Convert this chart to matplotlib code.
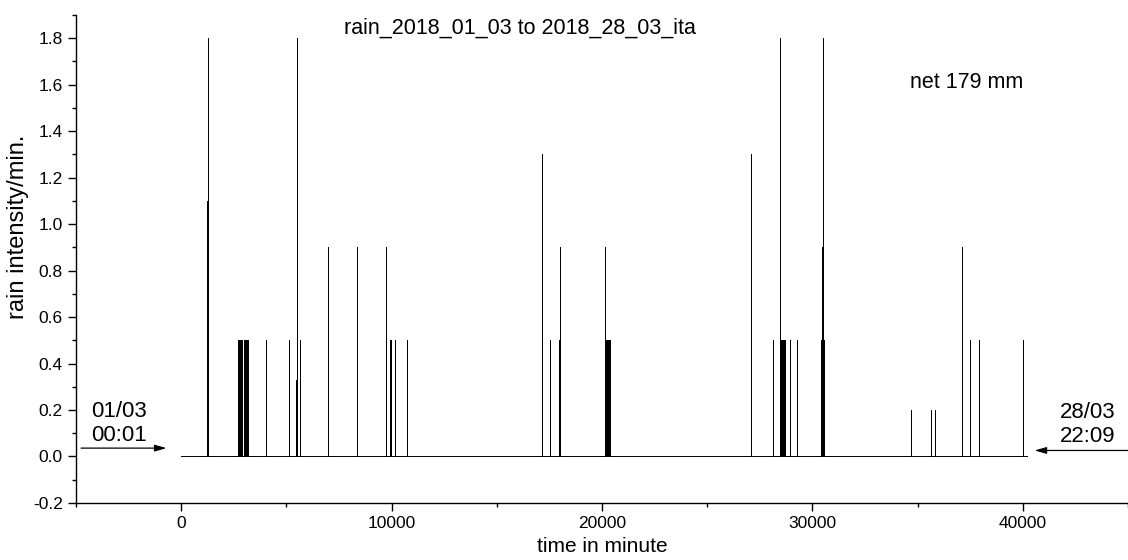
"""Rain intensity per minute, 01/03 to 28/03 2018 (spike plot)."""

import matplotlib

matplotlib.use("Agg")
import matplotlib.pyplot as plt
import numpy as np
from matplotlib.ticker import MultipleLocator, FormatStrFormatter

plt.rcParams["font.family"] = ["Liberation Sans", "DejaVu Sans"]

# record length in minutes (01/03 00:01 -> 28/03 22:09)
RECORD_END = 40208

# rain events: minute of event and intensity (mm/min)
EVENT_TIME = [
    1245, 1250,
    2684, 2731, 2779, 2826, 2883, 2907, 2969, 3016, 3064, 3111, 3159, 3183,
    4010, 4030,
    5144, 5477, 5510, 5652,
    6983, 8360,
    9714, 9752, 9904, 9975, 10179, 10749,
    17148, 17528, 17979, 18003,
    20126, 20140, 20185, 20230, 20280, 20330, 20400,
    27061, 28120, 28134, 28450, 28467, 28510, 28560, 28610, 28660, 28720,
    28928, 29246,
    30430, 30470, 30495, 30520, 30560,
    34689, 35625, 35829, 37131, 37511, 37919, 40009,
]
EVENT_RATE = [
    1.1, 1.8,
    0.5, 0.5, 0.5, 0.5, 0.5, 0.16, 0.5, 0.5, 0.5, 0.5, 0.5, 0.5,
    0.5, 0.5,
    0.5, 0.33, 1.8, 0.5,
    0.9, 0.9,
    0.5, 0.9, 0.5, 0.5, 0.5, 0.5,
    1.3, 0.5, 0.5, 0.9,
    0.9, 0.5, 0.5, 0.5, 0.5, 0.5, 0.5,
    1.3, 0.33, 0.5, 1.3, 1.8, 0.5, 0.5, 0.5, 0.5, 0.5,
    0.5, 0.5,
    0.5, 0.9, 1.8, 0.5, 0.5,
    0.2, 0.2, 0.2, 0.9, 0.5, 0.5, 0.5,
]

TITLE = "rain_2018_01_03 to 2018_28_03_ita"
NET_LABEL = "net 179 mm"
START_LABEL = "01/03\n00:01"
END_LABEL = "28/03\n22:09"


def spike_series(times, rates, end):
    """Turn event list into a zero baseline with vertical spikes."""
    order = np.argsort(times, kind="stable")
    xs, ys = [0.0], [0.0]
    for i in order:
        t, r = times[i], rates[i]
        xs += [t, t, t]
        ys += [0.0, r, 0.0]
    xs.append(end)
    ys.append(0.0)
    return np.array(xs), np.array(ys)


fig = plt.figure(figsize=(11.28, 5.60), dpi=100)
ax = fig.add_axes([0.0674, 0.1018, 0.9326, 0.8718])

x, y = spike_series(EVENT_TIME, EVENT_RATE, RECORD_END)
ax.plot(x, y, color="black", linewidth=0.7, solid_joinstyle="miter")

ax.set_xlim(-5000, 45000)
ax.set_ylim(-0.2, 1.9)

ax.xaxis.set_major_locator(MultipleLocator(10000))
ax.xaxis.set_minor_locator(MultipleLocator(5000))
ax.yaxis.set_major_locator(MultipleLocator(0.2))
ax.yaxis.set_minor_locator(MultipleLocator(0.1))
ax.yaxis.set_major_formatter(FormatStrFormatter("%.1f"))
ax.set_xticks([0, 10000, 20000, 30000, 40000])

ax.tick_params(which="major", direction="out", length=5.5, width=1.0,
               labelsize=12.5, pad=4)
ax.tick_params(which="minor", direction="out", length=3, width=1.0)

for side in ("top", "right"):
    ax.spines[side].set_visible(False)
for side in ("left", "bottom"):
    ax.spines[side].set_linewidth(1.0)

# start / end markers
arrow_style = dict(arrowstyle="-|>,head_length=0.7,head_width=0.2",
                   color="#666666", lw=0.9, fc="black", ec="black",
                   shrinkA=0, shrinkB=0)
ax.annotate("", xy=(-700, 0.036), xytext=(-4760, 0.036),
            arrowprops=arrow_style, annotation_clip=False)
ax.annotate("", xy=(40560, 0.026), xytext=(45000, 0.026),
            arrowprops=arrow_style, annotation_clip=False)
ax.text(-4300, 0.24, START_LABEL, fontsize=16, ha="left", va="top",
        linespacing=1.2)
ax.text(41750, 0.235, END_LABEL, fontsize=16, ha="left", va="top",
        linespacing=1.2, clip_on=False)

fig.text(520 / 1128, 1 - 28 / 560, TITLE, fontsize=15.5, ha="center",
         va="center")
fig.text(967 / 1128, 1 - 83 / 560, NET_LABEL, fontsize=15.5, ha="center",
         va="center")
fig.text(18 / 1128, 1 - 227 / 560, "rain intensity/min.", fontsize=17,
         rotation=90, ha="center", va="center")
fig.text(602 / 1128, 1 - 547 / 560, "time in minute", fontsize=15,
         ha="center", va="center")

fig.savefig("out.png", dpi=100, facecolor="white")
